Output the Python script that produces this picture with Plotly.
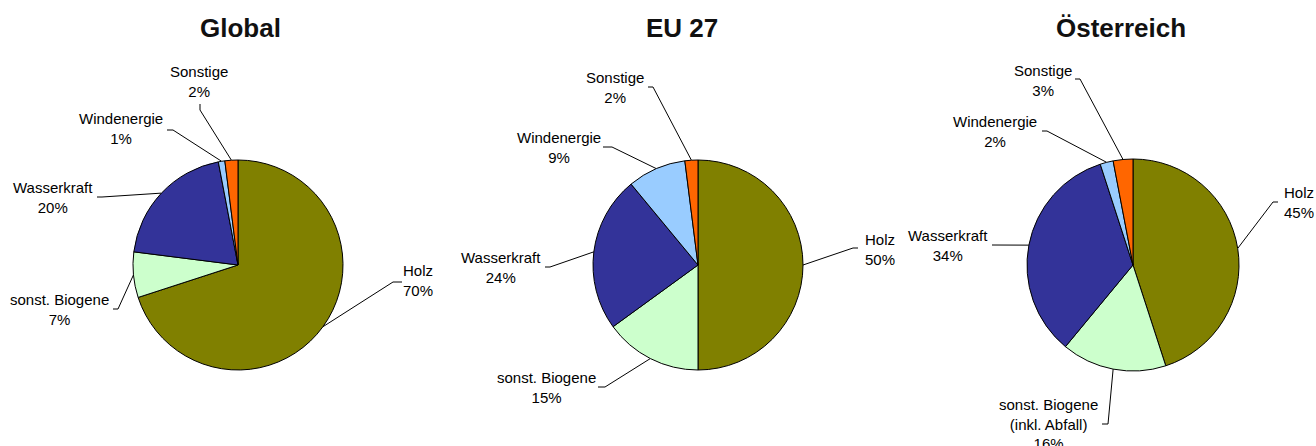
import math
import plotly.graph_objects as go

# ---------------- data ----------------
categories = ["Holz", "sonst. Biogene", "Wasserkraft", "Windenergie", "Sonstige"]
titles = ["Global", "EU 27", "Österreich"]
global_values = [70, 7, 20, 1, 2]
eu_values = [50, 15, 24, 9, 2]
at_values = [45, 16, 34, 2, 3]
at_label_names = ["Holz", "sonst. Biogene<br>(inkl. Abfall)", "Wasserkraft", "Windenergie", "Sonstige"]

# ---------------- style / layout ----------------
W, H = 1316, 446
colors = ["#808000", "#CCFFCC", "#333399", "#99CCFF", "#FF6600"]
LABEL_FONT = dict(family="Liberation Sans, Arial, sans-serif", size=15, color="#000000")
TITLE_FONT = dict(family="Liberation Sans, Arial, sans-serif", size=26, color="#111111")

# pie centre (px), radius (px), title centre x (px)
pies = [
    dict(values=global_values, names=categories, title=titles[0], cx=238, cy=265, r=105, tx=240),
    dict(values=eu_values, names=categories, title=titles[1], cx=698, cy=265, r=105, tx=682),
    dict(values=at_values, names=at_label_names, title=titles[2], cx=1133, cy=265, r=106, tx=1121),
]
# label placement relative to pie centre: label centre, leader tick start, leader elbow
label_layout = [
    [((180, 15), (164, 17), (155, 17)),
     ((-179, 44), (-125, 44), (-120, 44)),
     ((-185, -68), (-141, -68), (-136, -68)),
     ((-117, -137), (-71, -135), (-65, -135)),
     ((-39, -184), (-38, -161), (-38, -155))],
    [((182, -16), (160, -17), (155, -17)),
     ((-152, 122), (-100, 122), (-93, 122)),
     ((-197, 2), (-153, 2), (-148, 2)),
     ((-139, -118), (-95, -118), (-86, -118)),
     ((-83, -178), (-50, -178), (-45, -178))],
    [((166, -63), (145, -63), (140, -63)),
     ((-85, 159), (-31, 159), (-25, 159)),
     ((-185, -20), (-141, -20), (-133, -20)),
     ((-138, -134), (-91, -134), (-86, -134)),
     ((-90, -185), (-58, -186), (-53, -186))],
]

fig = go.Figure()
annotations = []

for p, lay in zip(pies, label_layout):
    cx, cy, r = p["cx"], p["cy"], p["r"]
    fig.add_trace(go.Pie(
        values=p["values"], labels=p["names"], sort=False, direction="clockwise",
        rotation=0, textinfo="none", hoverinfo="label+percent",
        marker=dict(colors=colors, line=dict(color="#000000", width=1)),
        showlegend=False,
        domain=dict(x=[(cx - r) / W, (cx + r) / W], y=[1 - (cy + r) / H, 1 - (cy - r) / H]),
    ))
    total = sum(p["values"])
    cum = 0.0
    for v, name, (lab, st, el) in zip(p["values"], p["names"], lay):
        mid = (cum + v / 2) / total * 2 * math.pi
        cum += v
        ex = cx + r * math.sin(mid)
        ey = cy - r * math.cos(mid)
        fig.add_trace(go.Scatter(
            x=[cx + st[0], cx + el[0], ex], y=[cy + st[1], cy + el[1], ey],
            mode="lines", line=dict(color="#000000", width=1),
            hoverinfo="skip", showlegend=False,
        ))
        annotations.append(dict(
            x=cx + lab[0], y=cy + lab[1], xref="x", yref="y",
            text=f"{name}<br>{v}%", showarrow=False, align="center",
            xanchor="center", yanchor="middle", font=LABEL_FONT,
        ))
    annotations.append(dict(
        x=p["tx"], y=28, xref="x", yref="y", text=f"<b>{p['title']}</b>",
        showarrow=False, xanchor="center", yanchor="middle", font=TITLE_FONT,
    ))

fig.update_layout(
    width=W, height=H, margin=dict(l=0, r=0, t=0, b=0),
    paper_bgcolor="white", plot_bgcolor="white",
    xaxis=dict(range=[0, W], visible=False, fixedrange=True, domain=[0, 1]),
    yaxis=dict(range=[H, 0], visible=False, fixedrange=True, domain=[0, 1]),
    annotations=annotations,
)

fig.write_html("out.html")
